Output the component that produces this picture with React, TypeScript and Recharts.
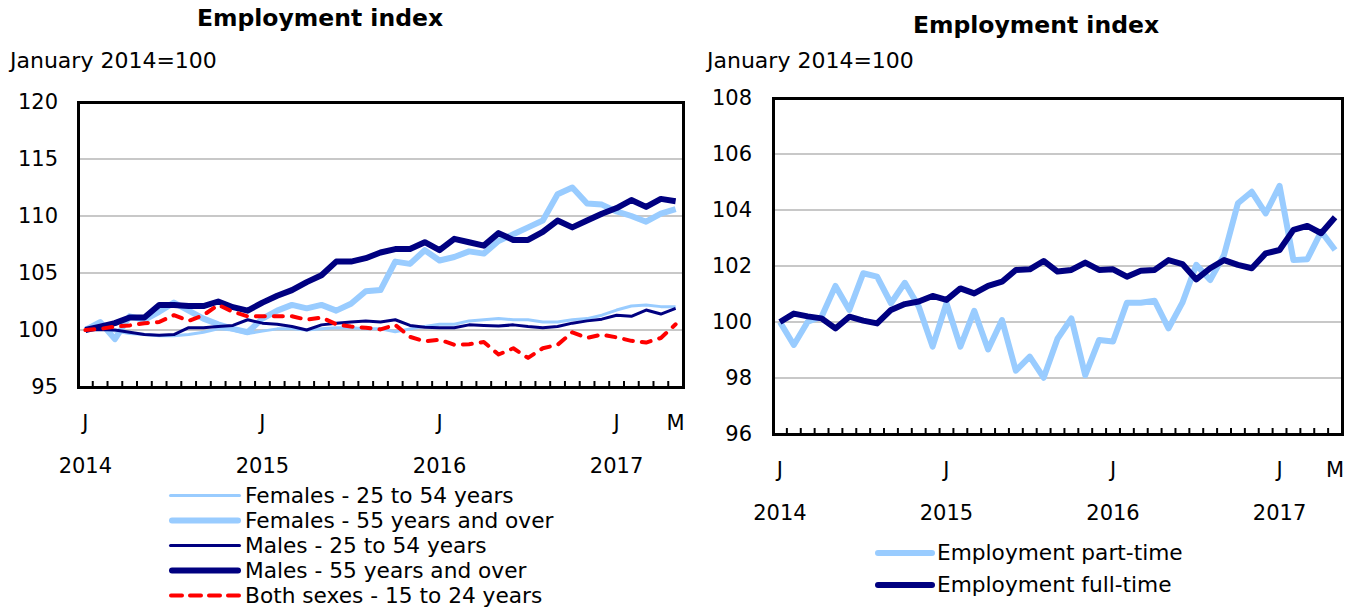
import React from 'react';
import { LineChart, Line, XAxis, YAxis, CartesianGrid } from 'recharts';

const FONT = '"DejaVu Sans", Verdana, sans-serif';
const LIGHT = '#99ccff';
const NAVY = '#000080';
const RED = '#ff0000';

// Jan 2014 .. May 2017
const months = [
    '2014-01', '2014-02', '2014-03', '2014-04', '2014-05', '2014-06', '2014-07', '2014-08', '2014-09', '2014-10', '2014-11', '2014-12',
    '2015-01', '2015-02', '2015-03', '2015-04', '2015-05', '2015-06', '2015-07', '2015-08', '2015-09', '2015-10', '2015-11', '2015-12',
    '2016-01', '2016-02', '2016-03', '2016-04', '2016-05', '2016-06', '2016-07', '2016-08', '2016-09', '2016-10', '2016-11', '2016-12',
    '2017-01', '2017-02', '2017-03', '2017-04', '2017-05'
];
const monthLetter: Record<string, string> = {
    '2014-01': 'J', '2015-01': 'J', '2016-01': 'J', '2017-01': 'J', '2017-05': 'M'
};
const yearLabel: Record<string, string> = {
    '2014-01': '2014', '2015-01': '2015', '2016-01': '2016', '2017-01': '2017'
};

const leftTicks = [95, 100, 105, 110, 115, 120];
const rightTicks = [96, 98, 100, 102, 104, 106, 108];

const femalesCore = [100, 100.2, 99.9, 99.7, 99.6, 99.5, 99.5, 99.6, 99.8, 100.1, 100.0, 99.7, 99.9, 100.1, 100.1, 100.0, 100.1, 100.2, 100.2, 100.1, 100.1, 99.85, 100.1, 100.3, 100.5, 100.5, 100.8, 100.9, 101.0, 100.9, 100.9, 100.7, 100.7, 100.9, 101.0, 101.3, 101.75, 102.1, 102.2, 102.05, 102.05];
const femalesOlder = [100, 100.7, 99.2, 101.2, 100.9, 101.6, 102.4, 101.7, 101.0, 100.5, 100.1, 99.8, 101.0, 101.7, 102.2, 101.9, 102.2, 101.7, 102.3, 103.4, 103.5, 106.0, 105.8, 107.0, 106.1, 106.4, 106.9, 106.7, 107.8, 108.4, 109.0, 109.6, 111.9, 112.5, 111.1, 111.0, 110.4, 110.0, 109.5, 110.2, 110.6];
const malesCore = [100, 100.05, 100, 99.8, 99.6, 99.55, 99.6, 100.2, 100.2, 100.3, 100.4, 100.9, 100.6, 100.5, 100.3, 100.0, 100.45, 100.6, 100.7, 100.8, 100.7, 100.9, 100.4, 100.25, 100.2, 100.2, 100.45, 100.4, 100.35, 100.45, 100.3, 100.2, 100.3, 100.6, 100.8, 100.95, 101.3, 101.2, 101.75, 101.4, 101.9];
const malesOlder = [100, 100.3, 100.6, 101.1, 101.1, 102.2, 102.2, 102.1, 102.1, 102.5, 102.0, 101.7, 102.4, 103.0, 103.5, 104.2, 104.8, 106.0, 106.0, 106.3, 106.8, 107.1, 107.1, 107.7, 107.0, 108.0, 107.7, 107.4, 108.5, 107.9, 107.9, 108.6, 109.6, 109.0, 109.6, 110.2, 110.7, 111.4, 110.8, 111.5, 111.3];
const youth = [100, 100.1, 100.3, 100.4, 100.6, 100.7, 101.3, 100.8, 101.3, 102.2, 101.6, 101.2, 101.2, 101.2, 101.2, 100.9, 101.1, 100.5, 100.3, 100.2, 100.05, 100.45, 99.4, 99.0, 99.15, 98.7, 98.75, 98.95, 97.85, 98.4, 97.55, 98.4, 98.7, 99.8, 99.3, 99.6, 99.35, 99.05, 98.9, 99.3, 100.5];

const partTime = [100, 99.18, 100.01, 100.19, 101.29, 100.43, 101.74, 101.62, 100.67, 101.4, 100.55, 99.12, 100.67, 99.12, 100.4, 99.02, 100.07, 98.26, 98.76, 98.01, 99.4, 100.13, 98.1, 99.36, 99.3, 100.69, 100.69, 100.76, 99.77, 100.69, 102.04, 101.5, 102.39, 104.24, 104.65, 103.88, 104.86, 102.21, 102.24, 103.23, 102.57];
const fullTime = [100, 100.3, 100.2, 100.13, 99.77, 100.19, 100.05, 99.95, 100.43, 100.64, 100.73, 100.93, 100.79, 101.2, 101.02, 101.29, 101.44, 101.86, 101.88, 102.18, 101.8, 101.86, 102.12, 101.86, 101.88, 101.62, 101.83, 101.86, 102.21, 102.07, 101.52, 101.92, 102.21, 102.04, 101.92, 102.45, 102.57, 103.29, 103.43, 103.17, 103.74];

const leftData = months.map((m, i) => ({
    month: m,
    femalesCore: femalesCore[i],
    femalesOlder: femalesOlder[i],
    malesCore: malesCore[i],
    malesOlder: malesOlder[i],
    youth: youth[i]
}));
const rightData = months.map((m, i) => ({ month: m, partTime: partTime[i], fullTime: fullTime[i] }));

const TICK = 21;
const TEXT = 21.7;

const MonthTick = (props: any) => {
    const { x, y, payload, band } = props;
    const key = payload.value;
    return (
        <g>
            <line x1={x + band / 2} x2={x + band / 2} y1={y} y2={y - 6} stroke="#000" strokeWidth={2} />
            {monthLetter[key] && (
                <text x={x} y={y + 36} textAnchor="middle" dominantBaseline="central"
                      fontSize={TICK} fontFamily={FONT} fill="#000">{monthLetter[key]}</text>
            )}
            {yearLabel[key] && (
                <text x={x} y={y + 79} textAnchor="middle" dominantBaseline="central"
                      fontSize={TICK} fontFamily={FONT} fill="#000">{yearLabel[key]}</text>
            )}
        </g>
    );
};

const yTickStyle = { fontSize: TICK, fontFamily: FONT, fill: '#000' };

const Box = ({ left, top, width, height }: any) => (
    <div style={{
        position: 'absolute', left: left - 1.5, top: top - 1.5, width: width + 3, height: height + 3,
        border: '3px solid #000', boxSizing: 'border-box', pointerEvents: 'none'
    }} />
);

const Label = ({ left, top, children, bold, width, align }: any) => (
    <div style={{
        position: 'absolute', left, top, width, textAlign: align || 'left',
        fontSize: bold ? 23.5 : 22, fontWeight: bold ? 'bold' : 'normal', lineHeight: 1, whiteSpace: 'nowrap'
    }}>{children}</div>
);

interface LegendItem { name: string; color: string; width: number; dash?: string }

const LegendBlock = ({ left, top, rowH, lineW, gap, items }: { left: number; top: number; rowH: number; lineW: number; gap: number; items: LegendItem[] }) => (
    <div style={{ position: 'absolute', left, top }}>
        {items.map(it => (
            <div key={it.name} style={{ display: 'flex', alignItems: 'center', height: rowH }}>
                <svg width={lineW} height={rowH}>
                    <line x1={it.width / 2 + 1} x2={lineW - it.width / 2 - 1} y1={rowH / 2} y2={rowH / 2}
                          stroke={it.color} strokeWidth={it.width} strokeLinecap="round" strokeDasharray={it.dash} />
                </svg>
                <span style={{ marginLeft: gap, fontSize: TEXT, lineHeight: 1, whiteSpace: 'nowrap' }}>{it.name}</span>
            </div>
        ))}
    </div>
);

// left plot area (page coordinates)
const L = { x: 78, y: 102, w: 605, h: 285 };
// right plot area (page coordinates, chart svg starts at x=700)
const R = { x: 773, y: 98, w: 569, h: 336 };

export default function App() {
    const leftBand = L.w / months.length;
    const rightBand = R.w / months.length;
    return (
        <div style={{ position: 'absolute', left: 0, top: 0, width: 1359, height: 609, background: '#fff', fontFamily: FONT, color: '#000' }}>
            <Label left={120} top={7} width={400} align="center" bold>Employment index</Label>
            <Label left={10} top={50}>January 2014=100</Label>

            <div style={{ position: 'absolute', left: 0, top: 0 }}>
                <LineChart width={700} height={490} data={leftData}
                           margin={{ top: L.y, left: L.x - 60, right: 700 - L.x - L.w, bottom: 490 - L.y - L.h - 90 }}>
                    <CartesianGrid vertical={false} stroke="#c8c8c8" strokeWidth={2} />
                    <XAxis dataKey="month" scale="band" interval={0} height={90} axisLine={false}
                           tickLine={false} tickSize={0} tickMargin={0}
                           tick={(p: any) => <MonthTick {...p} band={leftBand} />} />
                    <YAxis domain={[95, 120]} ticks={leftTicks} width={60} axisLine={false} tickLine={false}
                           tickSize={0} tickMargin={20} tick={yTickStyle} interval={0} />
                    <Line dataKey="femalesCore" stroke={LIGHT} strokeWidth={3} dot={false} strokeLinejoin="round" isAnimationActive={false} />
                    <Line dataKey="femalesOlder" stroke={LIGHT} strokeWidth={6} dot={false} strokeLinejoin="round" isAnimationActive={false} />
                    <Line dataKey="malesCore" stroke={NAVY} strokeWidth={3} dot={false} strokeLinejoin="round" isAnimationActive={false} />
                    <Line dataKey="malesOlder" stroke={NAVY} strokeWidth={6} dot={false} strokeLinejoin="round" isAnimationActive={false} />
                    <Line dataKey="youth" stroke={RED} strokeWidth={4} strokeDasharray="9 9" strokeLinecap="round" dot={false} strokeLinejoin="round" isAnimationActive={false} />
                </LineChart>
            </div>
            <Box left={L.x} top={L.y} width={L.w} height={L.h} />

            <LegendBlock left={168} top={483} rowH={25} lineW={74} gap={3} items={[
                { name: 'Females - 25 to 54 years', color: LIGHT, width: 3 },
                { name: 'Females - 55 years and over', color: LIGHT, width: 6 },
                { name: 'Males - 25 to 54 years', color: NAVY, width: 3 },
                { name: 'Males - 55 years and over', color: NAVY, width: 6 },
                { name: 'Both sexes - 15 to 24 years', color: RED, width: 4, dash: '11 8' }
            ]} />

            <Label left={836} top={14} width={400} align="center" bold>Employment index</Label>
            <Label left={707} top={50}>January 2014=100</Label>

            <div style={{ position: 'absolute', left: 700, top: 0 }}>
                <LineChart width={659} height={530} data={rightData}
                           margin={{ top: R.y, left: R.x - 700 - 60, right: 1359 - R.x - R.w, bottom: 530 - R.y - R.h - 90 }}>
                    <CartesianGrid vertical={false} stroke="#c8c8c8" strokeWidth={2} />
                    <XAxis dataKey="month" scale="band" interval={0} height={90} axisLine={false}
                           tickLine={false} tickSize={0} tickMargin={0}
                           tick={(p: any) => <MonthTick {...p} band={rightBand} />} />
                    <YAxis domain={[96, 108]} ticks={rightTicks} width={60} axisLine={false} tickLine={false}
                           tickSize={0} tickMargin={21} tick={yTickStyle} interval={0} />
                    <Line dataKey="partTime" stroke={LIGHT} strokeWidth={6} dot={false} strokeLinejoin="round" isAnimationActive={false} />
                    <Line dataKey="fullTime" stroke={NAVY} strokeWidth={6} dot={false} strokeLinejoin="round" isAnimationActive={false} />
                </LineChart>
            </div>
            <Box left={R.x} top={R.y} width={R.w} height={R.h} />

            <LegendBlock left={874} top={537} rowH={32} lineW={62} gap={1} items={[
                { name: 'Employment part-time', color: LIGHT, width: 6 },
                { name: 'Employment full-time', color: NAVY, width: 6 }
            ]} />
        </div>
    );
}
